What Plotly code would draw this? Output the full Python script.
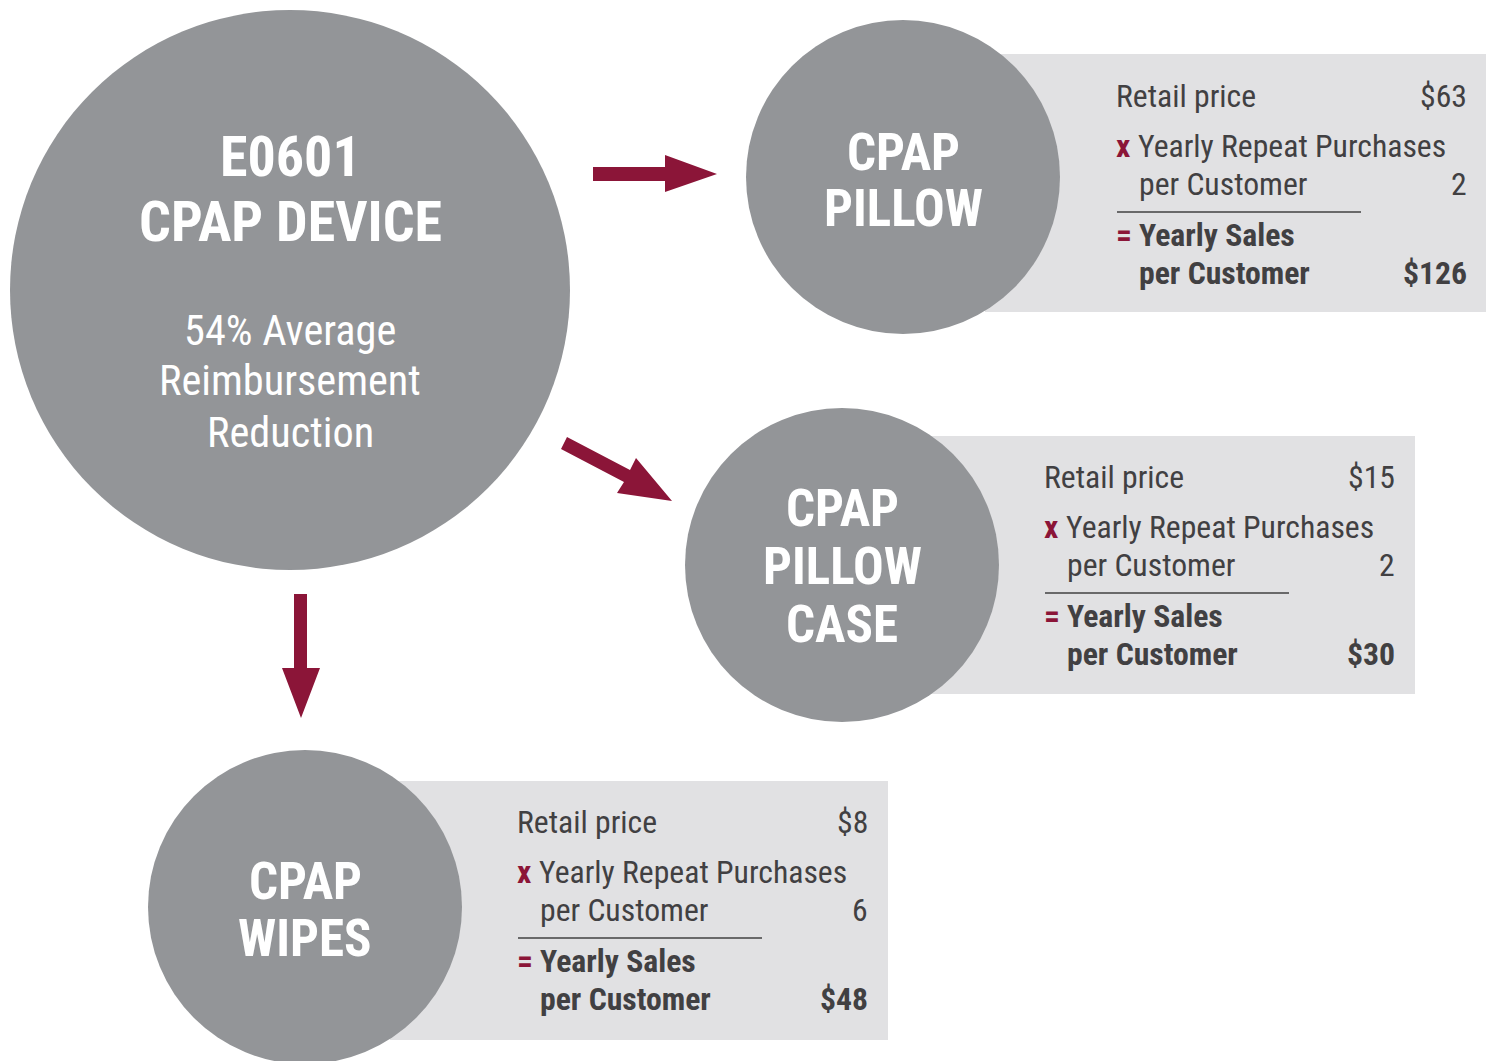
import plotly.graph_objects as go

# ---- data ----
products = ["CPAP PILLOW", "CPAP PILLOW CASE", "CPAP WIPES"]
retail_price = [63, 15, 8]
yearly_purchases = [2, 2, 6]
yearly_sales = [126, 30, 48]
device_title = ["E0601", "CPAP DEVICE"]
device_sub = ["54% Average", "Reimbursement", "Reduction"]

# ---- styles / layout positions ----
W, H = 1494, 1061
OFF = 8  # page body margin
GREY = "#939598"
BOX = "#e1e1e3"
RED = "#8b1538"
DARK = "#414042"
FONT = "Roboto Condensed, Liberation Sans Narrow, Roboto, sans-serif"
FS = 31.7

fig = go.Figure()
fig.add_trace(go.Scatter(x=[OFF, W], y=[OFF, H], mode="markers", marker=dict(opacity=0), hoverinfo="skip", showlegend=False))

shapes = []
ann = []

def text(x, y, s, size, color, xanchor="left", bold=False):
    ann.append(dict(x=x, y=y, xref="x", yref="y", text=(f"<b>{s}</b>" if bold else s), showarrow=False,
                    xanchor=xanchor, yanchor="middle", font=dict(family=FONT, size=size, color=color)))

panels = [
    dict(cx=903, cy=177, r=157, box=(985, 54, 1487, 312), tx=1115, y0=96, lines=["CPAP", "PILLOW"], ly=[152, 208], rule=(1117, 1361)),
    dict(cx=842, cy=565, r=157, box=(920, 436, 1415, 694), tx=1043, y0=477, lines=["CPAP", "PILLOW", "CASE"], ly=[508, 566, 624], rule=(1045, 1289)),
    dict(cx=305, cy=907, r=157, box=(390, 781, 888, 1040), tx=516, y0=822, lines=["CPAP", "WIPES"], ly=[881, 938], rule=(518, 762)),
]

for i, p in enumerate(panels):
    x0, y0, x1, y1 = p["box"]
    shapes.append(dict(type="rect", x0=x0, y0=y0, x1=x1, y1=y1, xref="x", yref="y", fillcolor=BOX, line=dict(width=0), layer="below"))
    shapes.append(dict(type="circle", x0=p["cx"] - p["r"], x1=p["cx"] + p["r"], y0=p["cy"] - p["r"], y1=p["cy"] + p["r"],
                       xref="x", yref="y", fillcolor=GREY, line=dict(width=0), layer="below"))
    for s, yy in zip(p["lines"], p["ly"]):
        text(p["cx"], yy, s, 51, "white", "center", bold=True)
    tx = p["tx"]; yb = p["y0"]; rx = x1 - 18
    text(tx - 1, yb, "Retail price", FS, DARK)
    text(rx, yb, f"${retail_price[i]}", FS, DARK, "right")
    text(tx - 1, yb + 50, "x", FS, RED, bold=True)
    text(tx + 21, yb + 50, "Yearly Repeat Purchases", FS, DARK)
    text(tx + 22, yb + 88, "per Customer", FS, DARK)
    text(rx, yb + 88, f"{yearly_purchases[i]}", FS, DARK, "right")
    shapes.append(dict(type="line", x0=p["rule"][0], x1=p["rule"][1], y0=yb + 116, y1=yb + 116, xref="x", yref="y", line=dict(color=DARK, width=1.5)))
    text(tx - 1, yb + 139, "=", FS, RED, bold=True)
    text(tx + 22, yb + 139, "Yearly Sales", FS, DARK, bold=True)
    text(tx + 22, yb + 177, "per Customer", FS, DARK, bold=True)
    text(rx, yb + 177, f"${yearly_sales[i]}", FS, DARK, "right", bold=True)

# main device circle
shapes.append(dict(type="circle", x0=10, x1=570, y0=10, y1=570, xref="x", yref="y", fillcolor=GREY, line=dict(width=0), layer="below"))
for s, yy in zip(device_title, [157, 222]):
    text(290, yy, s, 56, "white", "center", bold=True)
for s, yy in zip(device_sub, [330, 380, 432]):
    text(290, yy, s, 42.3, "white", "center")

# arrows
arrow_paths = [
    "M 593 167 L 665 167 L 665 155 L 717 174 L 665 192 L 665 181 L 593 181 Z",
    "M 294 594 L 307 594 L 307 668 L 320 668 L 301 718 L 282 668 L 294 668 Z",
    "M 567 437 L 630 470 L 636 458 L 672 501 L 617 493 L 624 482 L 561 449 Z",
]
for pth in arrow_paths:
    shapes.append(dict(type="path", path=pth, xref="x", yref="y", fillcolor=RED, line=dict(width=0)))

fig.update_layout(
    width=W - OFF, height=H - OFF, margin=dict(l=0, r=0, t=0, b=0),
    paper_bgcolor="white", plot_bgcolor="white",
    xaxis=dict(range=[OFF, W], visible=False, fixedrange=True),
    yaxis=dict(range=[H, OFF], visible=False, fixedrange=True),
    shapes=shapes, annotations=ann, showlegend=False,
)
fig.write_html("out.html")
